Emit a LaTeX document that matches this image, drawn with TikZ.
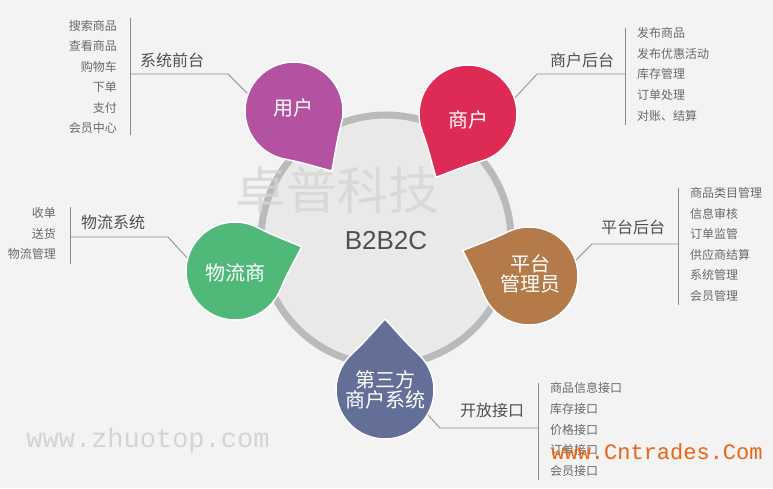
\documentclass[tikz,border=0pt]{standalone}
\usepackage{fontspec}
\setmainfont{Noto Sans CJK SC}
\newfontfamily\latinsans{Liberation Sans}
\newfontfamily\wmmono{Liberation Mono}
\usetikzlibrary{positioning,calc}
\definecolor{bgcol}{RGB}{243,243,243}
\definecolor{hubgray}{RGB}{233,233,233}
\definecolor{ringgray}{RGB}{186,186,186}
\definecolor{linegray}{RGB}{140,140,140}
\definecolor{labelgray}{RGB}{80,80,80}
\definecolor{itemgray}{RGB}{105,105,105}
\definecolor{wmgray}{RGB}{212,212,212}
\definecolor{dropuser}{RGB}{178,82,160}
\definecolor{dropshop}{RGB}{221,43,86}
\definecolor{dropadmin}{RGB}{180,122,74}
\definecolor{droplogi}{RGB}{80,185,122}
\definecolor{dropthird}{RGB}{99,111,151}
\definecolor{cnorange}{RGB}{232,101,20}
\begin{document}
\begin{tikzpicture}[x=1pt,y=1pt]
\tikzset{petal/.pic={\filldraw[fill=#1,draw=white,line width=1.5pt,line join=round] (71,0) to[out=137,in=-47] (43:49) arc[start angle=43,end angle=317,radius=49] to[out=47,in=223] (71,0) -- cycle;}, role/.style={text=white,font=\fontsize{20}{20.5}\selectfont,align=center,inner sep=0pt}, label/.style={text=labelgray,font=\fontsize{16}{17}\selectfont,inner sep=0pt}, itemr/.style={text=itemgray,font=\fontsize{12}{13}\selectfont,anchor=east,inner sep=0pt}, iteml/.style={text=itemgray,font=\fontsize{12}{13}\selectfont,anchor=west,inner sep=0pt}, link/.style={draw=linegray,line width=0.8pt}}
\fill[bgcol] (0,0) rectangle (773,488);
\useasboundingbox (0,0) rectangle (773,488);
\node[circle,draw=ringgray,line width=7pt,fill=hubgray,minimum size=250pt,inner sep=0pt] (hub) at (386,248) {};
\node[font=\fontsize{51}{51}\selectfont,text=wmgray,opacity=.75,inner sep=0pt] (wmark) at (337,298) {卓普科技};
\node[font=\latinsans\fontsize{26}{26}\selectfont,text=labelgray,inner sep=0pt] (b2b2c) at (386,247) {B2B2C};
% brackets first, the drops cover their inner ends
\coordinate (usertop) at (130,470); \coordinate (userbot) at (130,353); \coordinate (userjoin) at (130,414);
\coordinate (userknee) at (228,414); \coordinate (userend) at (252,390);
\draw[link] (usertop) -- (userbot); \draw[link] (userjoin) -- (userknee) -- (userend);
\coordinate (shoptop) at (625,460); \coordinate (shopbot) at (625,363); \coordinate (shopjoin) at (625,414);
\coordinate (shopknee) at (537,414); \coordinate (shopend) at (514,389);
\draw[link] (shoptop) -- (shopbot); \draw[link] (shopjoin) -- (shopknee) -- (shopend);
\coordinate (admintop) at (678,300); \coordinate (adminbot) at (678,183); \coordinate (adminjoin) at (678,244);
\coordinate (adminknee) at (592,244); \coordinate (adminend) at (574,226);
\draw[link] (admintop) -- (adminbot); \draw[link] (adminjoin) -- (adminknee) -- (adminend);
\coordinate (logitop) at (70,281); \coordinate (logibot) at (70,224); \coordinate (logijoin) at (70,251);
\coordinate (logiknee) at (168,251); \coordinate (logiend) at (190,227);
\draw[link] (logitop) -- (logibot); \draw[link] (logijoin) -- (logiknee) -- (logiend);
\coordinate (thirdtop) at (538,105); \coordinate (thirdbot) at (538,8); \coordinate (thirdjoin) at (538,60);
\coordinate (thirdknee) at (440,60); \coordinate (thirdend) at (427,74);
\draw[link] (thirdtop) -- (thirdbot); \draw[link] (thirdjoin) -- (thirdknee) -- (thirdend);
% the five drops round the hub
\pic[rotate=-57.8] at (294,377) {petal=dropuser};
\pic[rotate=-116.9] at (468,374) {petal=dropshop};
\pic[rotate=158.9] at (529,212) {petal=dropadmin};
\pic[rotate=19.9] at (235,217) {petal=droplogi};
\pic[rotate=90] at (385,98) {petal=dropthird};
\node[role] (user) at (293,380) {用户};
\node[role] (shop) at (468,368) {商户};
\node[role] (admin) at (530,214) {平台\\管理员};
\node[role] (logi) at (235,215) {物流商};
\node[role] (third) at (385,98) {第三方\\商户系统};
\node[label] (userlabel) at (172,428) {系统前台};
\node[label] (shoplabel) at (582,428) {商户后台};
\node[label] (adminlabel) at (633,261) {平台后台};
\node[label] (logilabel) at (113,266) {物流系统};
\node[label] (thirdlabel) at (492,78) {开放接口};
\foreach \t [count=\i] in {搜索商品,查看商品,购物车,下单,支付,会员中心}{\node[itemr] (useritem\i) at (117,{462-20.4*(\i-1)}) {\t};}
\foreach \t [count=\i] in {发布商品,发布优惠活动,库存管理,订单处理,对账、结算}{\node[iteml] (shopitem\i) at (637,{455-20.7*(\i-1)}) {\t};}
\foreach \t [count=\i] in {商品类目管理,信息审核,订单监管,供应商结算,系统管理,会员管理}{\node[iteml] (adminitem\i) at (690,{295-20.6*(\i-1)}) {\t};}
\foreach \t [count=\i] in {收单,送货,物流管理}{\node[itemr] (logiitem\i) at (56,{275-20.5*(\i-1)}) {\t};}
\foreach \t [count=\i] in {商品信息接口,库存接口,价格接口,订单接口,会员接口}{\node[iteml] (thirditem\i) at (550,{100-20.75*(\i-1)}) {\t};}
% site marks
\node[font=\wmmono\fontsize{27}{27}\selectfont,text=wmgray,inner sep=0pt] (zhuotop) at (148,47) {www.zhuotop.com};
\node[font=\wmmono\fontsize{22}{22}\selectfont,text=cnorange,inner sep=0pt] (cntrades) at (657,36) {www.Cntrades.Com};
\end{tikzpicture}
\end{document}
